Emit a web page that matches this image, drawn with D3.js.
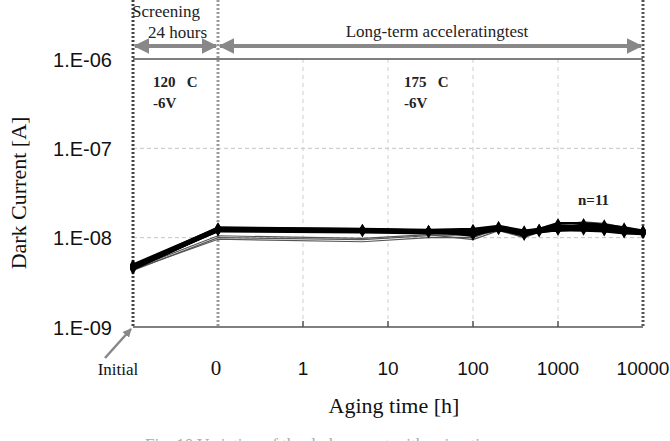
<!DOCTYPE html>
<html>
<head>
<meta charset="utf-8">
<script src="https://cdn.jsdelivr.net/npm/d3@7"></script>
<style>
  body { margin: 0; background: #fff; }
  svg { display: block; }
</style>
</head>
<body>
<div class="chart"></div>
<script>
// aging points: "Initial", then hours
const times = ["Initial", 0, 5, 30, 100, 200, 400, 600, 1000, 2000, 3500, 6000, 10000];
const xTickLabels = ["Initial", "0", "1", "10", "100", "1000", "10000"];
const yTicks = [1e-9, 1e-8, 1e-7, 1e-6];
const yTickLabels = ["1.E-09", "1.E-08", "1.E-07", "1.E-06"];

// dark current [A] per device (n=11)
const dev1 = [4.6e-9, 1.25e-8, 1.22e-8, 1.2e-8, 1.22e-8, 1.3e-8, 1.15e-8, 1.2e-8, 1.25e-8, 1.3e-8, 1.25e-8, 1.2e-8, 1.15e-8];
const dev2 = [4.8e-9, 1.3e-8, 1.25e-8, 1.22e-8, 1.25e-8, 1.35e-8, 1.2e-8, 1.25e-8, 1.35e-8, 1.35e-8, 1.3e-8, 1.25e-8, 1.2e-8];
const dev3 = [4.5e-9, 1.2e-8, 1.18e-8, 1.15e-8, 1.18e-8, 1.25e-8, 1.05e-8, 1.18e-8, 1.2e-8, 1.25e-8, 1.22e-8, 1.15e-8, 1.12e-8];
const dev4 = [4.4e-9, 1.22e-8, 1.2e-8, 1.18e-8, 1.2e-8, 1.28e-8, 1.1e-8, 1.22e-8, 1.3e-8, 1.28e-8, 1.2e-8, 1.18e-8, 1.18e-8];
const dev5 = [5.0e-9, 1.28e-8, 1.24e-8, 1.2e-8, 1.15e-8, 1.3e-8, 1.12e-8, 1.2e-8, 1.28e-8, 1.4e-8, 1.35e-8, 1.22e-8, 1.15e-8];
const dev6 = [4.7e-9, 1.18e-8, 1.15e-8, 1.12e-8, 1.1e-8, 1.22e-8, 1.08e-8, 1.15e-8, 1.22e-8, 1.2e-8, 1.18e-8, 1.12e-8, 1.1e-8];
const dev7 = [4.9e-9, 1.24e-8, 1.22e-8, 1.2e-8, 1.05e-8, 1.3e-8, 1.15e-8, 1.25e-8, 1.45e-8, 1.45e-8, 1.4e-8, 1.3e-8, 1.2e-8];
const dev8 = [4.6e-9, 1.2e-8, 1.2e-8, 1.18e-8, 1.2e-8, 1.25e-8, 1.18e-8, 1.2e-8, 1.25e-8, 1.3e-8, 1.28e-8, 1.2e-8, 1.15e-8];
const dev9 = [4.3e-9, 1.0e-8, 9.5e-9, 1.05e-8, 1.05e-8, 1.2e-8, 1.1e-8, 1.15e-8, 1.2e-8, 1.25e-8, 1.2e-8, 1.15e-8, 1.12e-8];
const dev10 = [4.4e-9, 9.6e-9, 9.0e-9, 1.0e-8, 1.0e-8, 1.25e-8, 1.05e-8, 1.2e-8, 1.4e-8, 1.5e-8, 1.45e-8, 1.3e-8, 1.2e-8];
const dev11 = [4.5e-9, 1.05e-8, 9.8e-9, 1.08e-8, 9.5e-9, 1.2e-8, 1.0e-8, 1.15e-8, 1.3e-8, 1.35e-8, 1.3e-8, 1.2e-8, 1.15e-8];

const thickSeries = [dev1, dev2, dev3, dev4, dev5, dev6, dev7, dev8];
const thinSeries = [dev9, dev10, dev11];

const serif = "'Liberation Serif', 'Times New Roman', serif";
const sans = "'Liberation Sans', Arial, sans-serif";

const W = 670, H = 441;
const plotL = 133, plotR = 643, plotT = 59, plotB = 327;

const svg = d3.select(".chart")
  .append("svg")
  .attr("width", W)
  .attr("height", H);

// position scale: Initial=0, 0h=1, 1h..10000h = 2..6 (log)
const xPos = d3.scaleLinear().domain([0, 6]).range([plotL, plotR]);
const xLog = d3.scaleLog().domain([1, 10000]).range([xPos(2), xPos(6)]);
function xOf(t) {
  if (t === "Initial") return xPos(0);
  if (t === 0) return xPos(1);
  return xLog(t);
}

const yScale = d3.scaleLog().domain([1e-9, 1e-6]).range([plotB, plotT]);

// grid
svg.append("g")
  .selectAll("line")
  .data([1e-8, 1e-7])
  .join("line")
  .attr("x1", plotL).attr("x2", plotR)
  .attr("y1", d => yScale(d)).attr("y2", d => yScale(d))
  .attr("stroke", "#c4c4c4")
  .attr("stroke-dasharray", "4,3");

svg.append("g")
  .selectAll("line")
  .data([1, 10, 100, 1000])
  .join("line")
  .attr("x1", d => xLog(d)).attr("x2", d => xLog(d))
  .attr("y1", plotT).attr("y2", plotB)
  .attr("stroke", "#cfcfcf")
  .attr("stroke-dasharray", "4,4");

// y axis labels
const yAxis = d3.axisLeft(yScale)
  .tickValues(yTicks)
  .tickSize(0)
  .tickPadding(0)
  .tickFormat((d, i) => yTickLabels[i]);

const yAxisGroup = svg.append("g")
  .attr("transform", `translate(112,0)`)
  .call(yAxis)
  .call(g => g.select(".domain").remove());

yAxisGroup.selectAll("text")
  .attr("font-family", sans)
  .attr("font-size", 20)
  .attr("fill", "#111")
  .attr("dy", "0.35em");

// top frame line and bottom axis
svg.append("line")
  .attr("x1", plotL).attr("x2", plotR)
  .attr("y1", plotT).attr("y2", plotT)
  .attr("stroke", "#555").attr("stroke-width", 1.5);

svg.append("line")
  .attr("x1", plotL).attr("x2", plotR)
  .attr("y1", plotB).attr("y2", plotB)
  .attr("stroke", "#555").attr("stroke-width", 1.5);

svg.append("g")
  .selectAll("line")
  .data([1, 10, 100, 1000])
  .join("line")
  .attr("x1", d => xLog(d)).attr("x2", d => xLog(d))
  .attr("y1", plotB).attr("y2", plotB - 6)
  .attr("stroke", "#555").attr("stroke-width", 1.5);

// phase boundaries (dotted)
const bounds = [
  {x: xPos(0), c: "#444"},
  {x: xPos(1), c: "#9a9a9a"},
  {x: xPos(6), c: "#555"}
];
svg.append("g")
  .selectAll("line")
  .data(bounds)
  .join("line")
  .attr("x1", d => d.x).attr("x2", d => d.x)
  .attr("y1", 0).attr("y2", plotB)
  .attr("stroke", d => d.c)
  .attr("stroke-width", 3)
  .attr("stroke-dasharray", "2,2");

// phase arrows
const defs = svg.append("defs");
defs.append("marker")
  .attr("id", "ah")
  .attr("viewBox", "0 0 10 10")
  .attr("refX", 9).attr("refY", 5)
  .attr("markerWidth", 4).attr("markerHeight", 4)
  .attr("orient", "auto-start-reverse")
  .append("path")
  .attr("d", "M0,0L10,5L0,10z")
  .attr("fill", "#888");

const arrows = [[xPos(0) + 2, xPos(1) - 2], [xPos(1) + 2, xPos(6) - 2]];
svg.append("g")
  .selectAll("line")
  .data(arrows)
  .join("line")
  .attr("x1", d => d[0]).attr("x2", d => d[1])
  .attr("y1", 46).attr("y2", 46)
  .attr("stroke", "#888")
  .attr("stroke-width", 4)
  .attr("marker-start", "url(#ah)")
  .attr("marker-end", "url(#ah)");

// series
const line = d3.line()
  .x((d, i) => xOf(times[i]))
  .y(d => yScale(d));

svg.append("g")
  .selectAll("path")
  .data(thinSeries)
  .join("path")
  .attr("d", line)
  .attr("fill", "none")
  .attr("stroke", "#555")
  .attr("stroke-width", 1.2);

svg.append("g")
  .selectAll("path")
  .data(thickSeries)
  .join("path")
  .attr("d", line)
  .attr("fill", "none")
  .attr("stroke", "#000")
  .attr("stroke-width", 2.4)
  .attr("stroke-linejoin", "round");

const symbol = d3.symbol().type(d3.symbolDiamond).size(32);
thickSeries.forEach(s => {
  svg.append("g")
    .selectAll("path")
    .data(s)
    .join("path")
    .attr("d", symbol)
    .attr("transform", (d, i) => `translate(${xOf(times[i])},${yScale(d)})`)
    .attr("fill", "#000");
});

// x tick labels
svg.append("g")
  .selectAll("text")
  .data(xTickLabels)
  .join("text")
  .attr("x", (d, i) => i === 0 ? xPos(0) - 15 : xPos(i) - (i === 1 ? 2 : 0))
  .attr("y", 375)
  .attr("text-anchor", "middle")
  .attr("font-family", (d, i) => i < 2 ? serif : sans)
  .attr("font-size", (d, i) => i === 0 ? 17 : (i === 1 ? 21 : 19))
  .attr("fill", "#111")
  .text(d => d);

// arrow from "Initial" to its axis position
defs.append("marker")
  .attr("id", "ah2")
  .attr("viewBox", "0 0 10 10")
  .attr("refX", 9).attr("refY", 5)
  .attr("markerWidth", 3.5).attr("markerHeight", 3.5)
  .attr("orient", "auto")
  .append("path")
  .attr("d", "M0,0L10,5L0,10z")
  .attr("fill", "#888");

svg.append("line")
  .attr("x1", xPos(0) - 28).attr("y1", 358)
  .attr("x2", xPos(0) - 2).attr("y2", plotB + 2)
  .attr("stroke", "#888").attr("stroke-width", 2.5)
  .attr("marker-end", "url(#ah2)");

// axis titles
svg.append("text")
  .attr("x", (plotL + plotR) / 2 + 6)
  .attr("y", 413)
  .attr("text-anchor", "middle")
  .attr("font-family", serif)
  .attr("font-size", 22)
  .attr("fill", "#111")
  .text("Aging time [h]");

svg.append("text")
  .attr("transform", `translate(26,${(plotT + plotB) / 2}) rotate(-90)`)
  .attr("text-anchor", "middle")
  .attr("font-family", serif)
  .attr("font-size", 22)
  .attr("fill", "#111")
  .text("Dark Current [A]");

// annotations
const notes = [
  {x: 132, y: 17, t: "Screening", w: "normal", s: 17},
  {x: 148, y: 38, t: "24 hours", w: "normal", s: 17},
  {x: 153, y: 87, t: "120   C", w: "bold", s: 15},
  {x: 153, y: 108, t: "-6V", w: "bold", s: 15},
  {x: 404, y: 87, t: "175   C", w: "bold", s: 15},
  {x: 404, y: 108, t: "-6V", w: "bold", s: 15},
  {x: 578, y: 205, t: "n=11", w: "bold", s: 15}
];
svg.append("g")
  .selectAll("text")
  .data(notes)
  .join("text")
  .attr("x", d => d.x)
  .attr("y", d => d.y)
  .attr("font-family", serif)
  .attr("font-weight", d => d.w)
  .attr("font-size", d => d.s)
  .attr("fill", "#222")
  .style("white-space", "pre")
  .text(d => d.t);

svg.append("text")
  .attr("x", 437)
  .attr("y", 37)
  .attr("text-anchor", "middle")
  .attr("font-family", serif)
  .attr("font-size", 17)
  .attr("fill", "#222")
  .text("Long-term acceleratingtest");

// caption, cut off at the bottom edge as in the source
svg.append("text")
  .attr("x", 145)
  .attr("y", 450)
  .attr("font-family", serif)
  .attr("font-size", 17)
  .attr("fill", "#aaa")
  .text("Fig. 10   Variation of the dark current with aging time");
</script>
</body>
</html>
